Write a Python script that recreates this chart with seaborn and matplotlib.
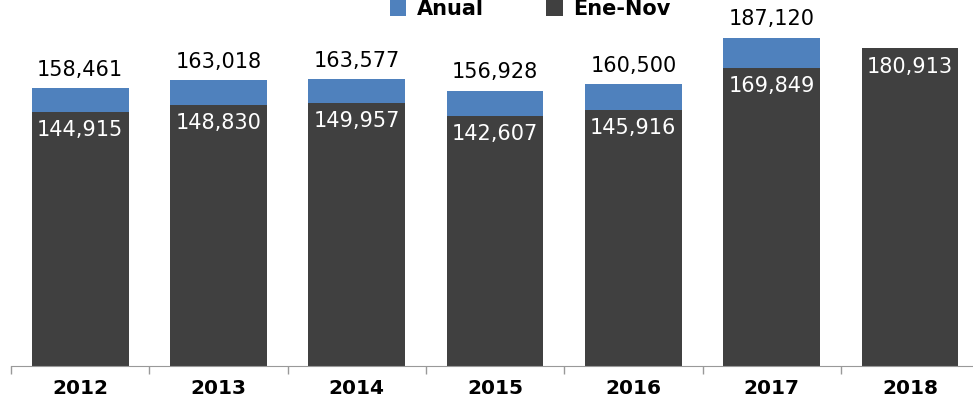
import numpy as np
import pandas as pd
import matplotlib
matplotlib.use('Agg')
import matplotlib.pyplot as plt
import seaborn as sns

# datos
anios = ['2012', '2013', '2014', '2015', '2016', '2017', '2018']
anual = [158461, 163018, 163577, 156928, 160500, 187120, np.nan]
ene_nov = [144915, 148830, 149957, 142607, 145916, 169849, 180913]

azul = '#4F81BD'
gris = '#404040'

sns.set_style('white')
plt.rcParams['font.family'] = ['DejaVu Sans']

df = pd.DataFrame({'anio': anios, 'Anual': anual, 'Ene-Nov': ene_nov})

fig = plt.figure(figsize=(9.73, 4.0), dpi=100)
ax = fig.add_axes([0.0113, 0.085, 0.995, 0.8775])

sns.barplot(data=df, x='anio', y='Anual', color=azul, width=0.7,
            saturation=1, linewidth=0, ax=ax, label='Anual')
sns.barplot(data=df, x='anio', y='Ene-Nov', color=gris, width=0.7,
            saturation=1, linewidth=0, ax=ax, label='Ene-Nov')

ax.set_ylim(0, 200000)
ax.set_xlim(-0.5, 6.5)

# etiquetas de valores
for i, (a, e) in enumerate(zip(anual, ene_nov)):
    if not np.isnan(a):
        ax.annotate(f'{int(a):,}', (i, a), xytext=(0, 6), textcoords='offset points',
                    ha='center', va='bottom', fontsize=15, color='black',
                    fontweight='medium')
    ax.annotate(f'{int(e):,}', (i, e), xytext=(0, -6), textcoords='offset points',
                ha='center', va='top', fontsize=15, color='white',
                fontweight='medium')

# ejes
for s in ['top', 'right', 'left']:
    ax.spines[s].set_visible(False)
ax.spines['bottom'].set_color('#999999')
ax.set_yticks([])
ax.set_ylabel('')
ax.set_xlabel('')
ax.tick_params(axis='x', which='major', length=0, pad=9, labelcolor='black')
ax.set_xticks(np.arange(-0.5, 7.0, 1.0), minor=True)
ax.tick_params(axis='x', which='minor', bottom=True, length=6, width=1,
               color='#999999', direction='out')
for t in ax.get_xticklabels():
    t.set_fontweight('heavy')
    t.set_fontsize(14.5)

handles, labels = ax.get_legend_handles_labels()
if ax.get_legend() is not None:
    ax.get_legend().remove()
fig.legend(handles, labels, loc='center', bbox_to_anchor=(0.545, 0.977), ncol=2,
           frameon=False, handlelength=0.8, handleheight=0.8,
           columnspacing=3.0, handletextpad=0.5, labelcolor='black',
           prop={'size': 15, 'weight': 'bold'})

fig.savefig('out.png', dpi=100)
